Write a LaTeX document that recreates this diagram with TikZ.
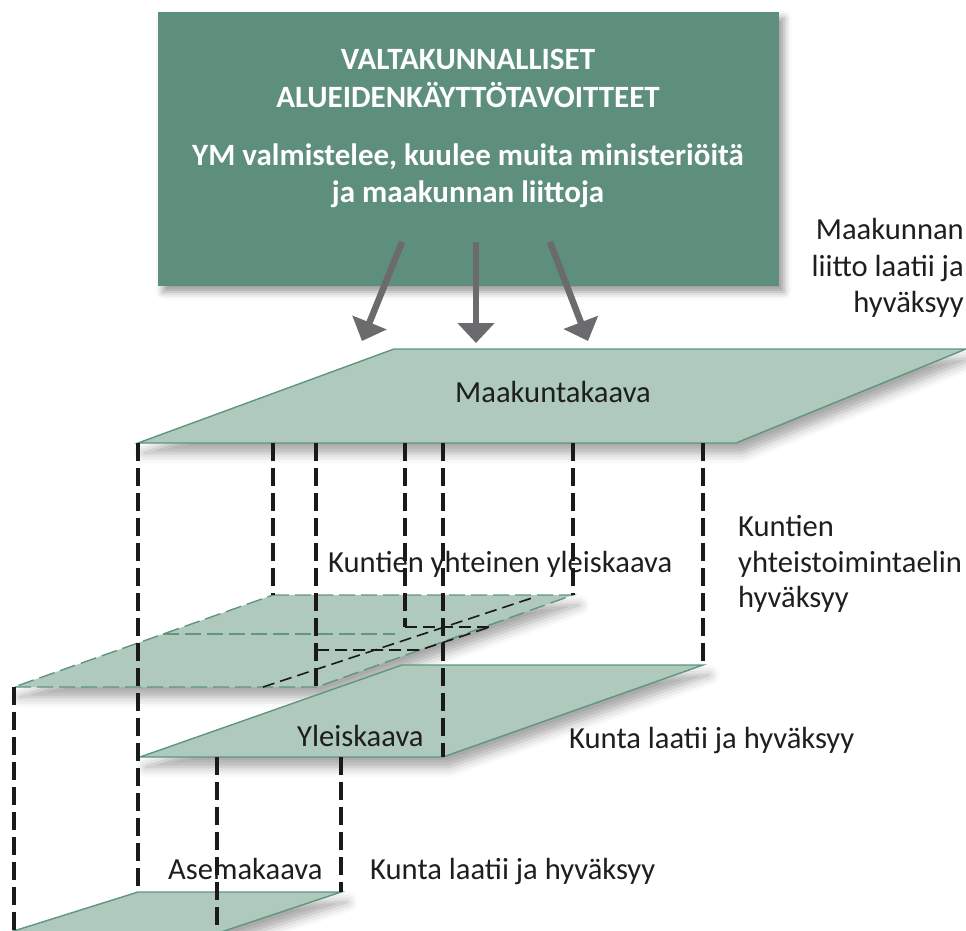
\documentclass[tikz,border=0pt]{standalone}
\usepackage{fontspec}
\setmainfont{Carlito}
\usetikzlibrary{arrows.meta,shadows.blur}
\definecolor{boxgreen}{HTML}{5E8E7C}
\definecolor{planefill}{HTML}{AFC9BD}
\definecolor{planeedge}{HTML}{5E9680}
\definecolor{arrowgray}{HTML}{6B6B6D}
\definecolor{txt}{HTML}{1E1E1E}
\definecolor{dashblack}{HTML}{1A1A1A}
\begin{document}
\begin{tikzpicture}[x=1pt,y=-1pt,
  topbox/.style={draw=none,fill=boxgreen,minimum width=621pt,minimum height=274pt,inner sep=0pt,
    blur shadow={shadow xshift=5pt,shadow yshift=-6pt,shadow blur radius=7pt,shadow opacity=40}},
  boxtxt/.style={text=white,font=\bfseries\fontsize{31}{36}\selectfont,inner sep=0pt,anchor=base},
  plane/.style={fill=planefill,draw=planeedge,line width=1.4pt,line join=miter,
    blur shadow={shadow xshift=6pt,shadow yshift=-10pt,shadow blur radius=10pt,shadow opacity=35}},
  dplane/.style={fill=planefill,draw=planeedge,line width=1.4pt,dash pattern=on 16pt off 6pt,
    blur shadow={shadow xshift=6pt,shadow yshift=-10pt,shadow blur radius=10pt,shadow opacity=35}},
  vdash/.style={draw=dashblack,line width=3.6pt,dash pattern=on 18pt off 7pt},
  hid/.style={draw=dashblack,line width=1.6pt,dash pattern=on 12pt off 6pt},
  lhid/.style={draw=planeedge,line width=1.4pt,dash pattern=on 16pt off 6pt},
  arr/.style={draw=arrowgray,line width=6.5pt,-{Triangle[length=20pt,width=36pt]}},
  lbl/.style={text=txt,font=\fontsize{30.6}{36}\selectfont,inner sep=0pt}]
\path[use as bounding box] (0,0) rectangle (966,930);
\clip (0,0) rectangle (966,930);

% top box
\node[topbox] (vak) at (468.5,149) {};
\node[boxtxt] (t1) at (468,69) {VALTAKUNNALLISET};
\node[boxtxt] (t2) at (468,107) {ALUEIDENKÄYTTÖTAVOITTEET};
\node[boxtxt] (s1) at (468,165) {YM valmistelee, kuulee muita ministeriöitä};
\node[boxtxt] (s2) at (468,202) {ja maakunnan liittoja};

% arrows
\coordinate (a1s) at (402,242); \coordinate (a1e) at (362,341);
\coordinate (a2s) at (476,242); \coordinate (a2e) at (476,343);
\coordinate (a3s) at (550,242); \coordinate (a3e) at (588,341);
\draw[arr] (a1s) -- (a1e);
\draw[arr] (a2s) -- (a2e);
\draw[arr] (a3s) -- (a3e);

% Maakuntakaava plane
\coordinate (mTL) at (394,349); \coordinate (mTR) at (966,349);
\coordinate (mBR) at (736,443); \coordinate (mBL) at (138,443);
\path[plane] (mTL) -- (mTR) -- (mBR) -- (mBL) -- cycle;

% Kuntien yhteinen yleiskaava plane
\coordinate (kTL) at (273,595); \coordinate (kTR) at (573,595);
\coordinate (kBR) at (317,687); \coordinate (kBL) at (14,687);
\path[dplane] (kTL) -- (kTR) -- (kBR) -- (kBL) -- cycle;
\coordinate (kh1) at (163,634); \coordinate (kh2) at (395,634);
\draw[lhid] (kh1) -- (kh2);
\coordinate (d1a) at (263,687); \coordinate (d1b) at (535,597);
\draw[hid] (d1a) -- (d1b);
\coordinate (d2a) at (317,650); \coordinate (d2b) at (420,650); \coordinate (d2c) at (490,627);
\draw[hid] (d2a) -- (d2b) -- (d2c);
\coordinate (d3a) at (405,627);
\draw[hid] (d3a) -- (d2c);

% Yleiskaava plane
\coordinate (yTL) at (402,665); \coordinate (yTR) at (703,665);
\coordinate (yBR) at (443,757); \coordinate (yBL) at (140,757);
\path[plane] (yTL) -- (yTR) -- (yBR) -- (yBL) -- cycle;

% Asemakaava plane
\coordinate (aTL) at (138,892); \coordinate (aTR) at (341,892);
\coordinate (aBR) at (167,950); \coordinate (aBL) at (-47,950);
\path[plane] (aTL) -- (aTR) -- (aBR) -- (aBL) -- cycle;

% labels
\node[lbl,anchor=base] (mk) at (553,402) {Maakuntakaava};
\node[lbl,anchor=base east] (ml1) at (964,239) {Maakunnan};
\node[lbl,anchor=base east] (ml2) at (964,276) {liitto laatii ja};
\node[lbl,anchor=base east] (ml3) at (964,312) {hyväksyy};
\node[lbl,anchor=base west] (ky) at (328,572) {Kuntien yhteinen yleiskaava};
\node[lbl,anchor=base west] (kt1) at (738,536) {Kuntien};
\node[lbl,anchor=base west] (kt2) at (738,572) {yhteistoimintaelin};
\node[lbl,anchor=base west] (kt3) at (738,607) {hyväksyy};
\node[lbl,anchor=base west] (yk) at (297,746) {Yleiskaava};
\node[lbl,anchor=base west] (yl) at (569,748) {Kunta laatii ja hyväksyy};
\node[lbl,anchor=base west] (ak) at (168,879) {Asemakaava};
\node[lbl,anchor=base west] (al) at (370,879) {Kunta laatii ja hyväksyy};

% vertical dashed projection lines
\coordinate (v1t) at (138,443); \coordinate (v1b) at (138,892);
\coordinate (v2t) at (273,443); \coordinate (v2b) at (273,595);
\coordinate (v3t) at (316,443); \coordinate (v3b) at (316,687);
\coordinate (v4t) at (405,443); \coordinate (v4b) at (405,627);
\coordinate (v5t) at (443,443); \coordinate (v5b) at (443,757);
\coordinate (v6t) at (573,443); \coordinate (v6b) at (573,595);
\coordinate (v7t) at (703,443); \coordinate (v7b) at (703,665);
\coordinate (v8t) at (14,687);  \coordinate (v8b) at (14,930);
\coordinate (v9t) at (217,757); \coordinate (v9b) at (217,930);
\coordinate (v10t) at (341,757); \coordinate (v10b) at (341,892);
\draw[vdash] (v1t) -- (v1b);
\draw[vdash] (v2t) -- (v2b);
\draw[vdash] (v3t) -- (v3b);
\draw[vdash] (v4t) -- (v4b);
\draw[vdash] (v5t) -- (v5b);
\draw[vdash] (v6t) -- (v6b);
\draw[vdash] (v7t) -- (v7b);
\draw[vdash] (v8t) -- (v8b);
\draw[vdash] (v9t) -- (v9b);
\draw[vdash] (v10t) -- (v10b);
\end{tikzpicture}
\end{document}
